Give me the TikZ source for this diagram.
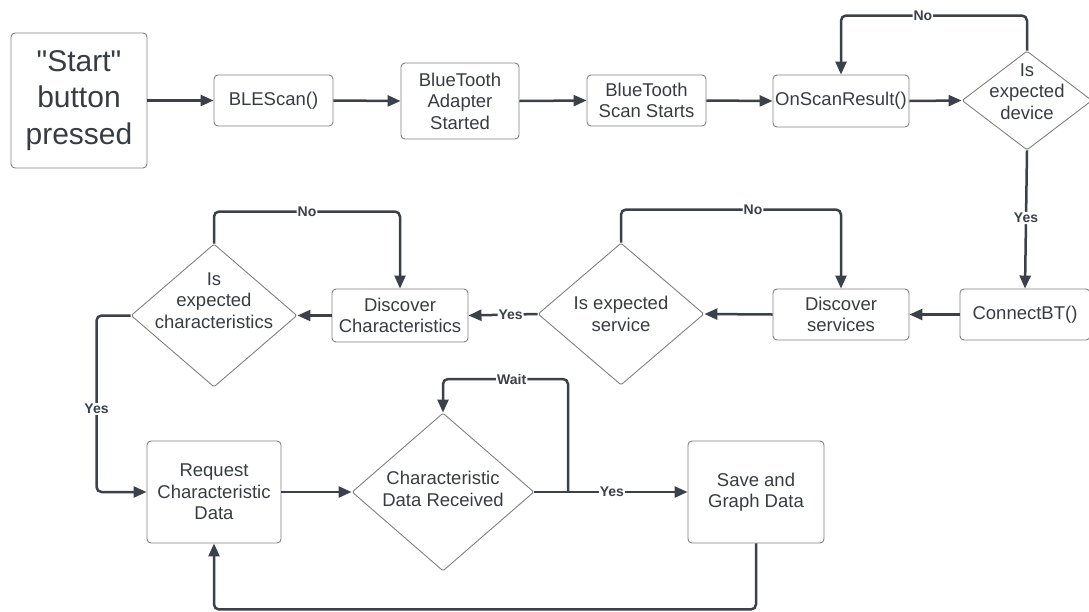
\documentclass[tikz,border=0pt]{standalone}
\usepackage{fontspec}
\setmainfont{Liberation Sans}
\usetikzlibrary{arrows.meta,shapes.geometric}
\definecolor{linec}{RGB}{58,65,75}
\definecolor{edgec}{RGB}{128,128,128}
\definecolor{textc}{RGB}{55,60,68}
\tikzset{
  box/.style={draw=edgec, line width=0.9pt, rounded corners=4pt, align=center,
    text=textc, font=\fontsize{18.5}{21.5}\selectfont, inner sep=0pt},
  dia/.style={draw=edgec, line width=0.9pt, shape=diamond, inner sep=0pt,
    rounded corners=1.5pt},
  diatext/.style={text=textc, align=center, font=\fontsize{18.5}{21.5}\selectfont},
  conn/.style={draw=linec, line width=2.5pt, rounded corners=5pt,
    -{Triangle[length=13pt,width=11pt]}},
  lbl/.style={fill=white, inner sep=1pt, text=linec,
    font=\fontsize{14}{16}\selectfont\bfseries}
}
\begin{document}
\begin{tikzpicture}[x=1pt,y=-1pt]
\useasboundingbox (0,0) rectangle (1089,611);

% top row
\node[box, minimum width=136pt, minimum height=135pt,
  font=\fontsize{30}{36.5}\selectfont] (start) at (79,100.5)
  {\textquotedbl Start\textquotedbl\\button\\pressed};
\node[box, minimum width=119pt, minimum height=51pt] (ble) at (273.5,100.5) {BLEScan()};
\node[box, minimum width=118pt, minimum height=76pt] (bta) at (460,101) {BlueTooth\\Adapter\\Started};
\node[box, minimum width=119pt, minimum height=51pt] (bss) at (646.5,100.5) {BlueTooth\\Scan Starts};
\node[box, minimum width=136pt, minimum height=52pt] (osr) at (841,101) {OnScanResult()};
\node[dia, minimum width=130pt, minimum height=99pt,
  label={[diatext, yshift=9pt]center:Is\\expected\\device}] (dev) at (1027,100.5) {};

% middle row
\node[box, minimum width=130pt, minimum height=51pt] (cbt) at (1025,314.5) {ConnectBT()};
\node[box, minimum width=136pt, minimum height=51pt] (dsv) at (841,314.5) {Discover\\services};
\node[dia, minimum width=166pt, minimum height=142pt,
  label={[diatext]center:Is expected\\service}] (svc) at (621,314) {};
\node[box, minimum width=136pt, minimum height=53pt] (dch) at (400,315.5) {Discover\\Characteristics};
\node[dia, minimum width=166pt, minimum height=143pt,
  label={[diatext, yshift=15pt]center:Is\\expected\\characteristics}] (chr) at (214,315.5) {};

% bottom row
\node[box, minimum width=134pt, minimum height=102pt] (req) at (214,492) {Request\\Characteristic\\Data};
\node[dia, minimum width=182pt, minimum height=158pt,
  label={[diatext, yshift=3pt]center:Characteristic\\Data Received}] (cdr) at (443,492) {};
\node[box, minimum width=136pt, minimum height=102pt] (sav) at (756,492) {Save and\\Graph Data};
\coordinate (wsplit) at (568,492);

% connectors
\draw[conn] (start.east) -- (ble.west);
\draw[conn] (ble.east) -- (bta.west);
\draw[conn] (bta.east) -- (bss.west);
\draw[conn] (bss.east) -- (osr.west);
\draw[conn] (osr.east) -- (dev.west);
\draw[conn] (dev.north) -- ++(0,-35) -| node[lbl, pos=0.28] {No} (osr.north);
\draw[conn] (dev.south) -- node[lbl, pos=0.49] {Yes} (cbt.north);
\draw[conn] (cbt.west) -- (dsv.east);
\draw[conn] (dsv.west) -- (svc.east);
\draw[conn] (svc.north) -- ++(0,-33) -| node[lbl, pos=0.30] {No} (dsv.north);
\draw[conn] (svc.west) -- node[lbl, pos=0.39] {Yes} (dch.east);
\draw[conn] (dch.west) -- (chr.east);
\draw[conn] (chr.north) -- ++(0,-32) -| node[lbl, pos=0.25] {No} (dch.north);
\draw[conn] (chr.west) -- ++(-34,0) |- node[lbl, pos=0.265] {Yes} (req.west);
\draw[conn] (req.east) -- (cdr.west);
\draw[conn] (cdr.east) -- node[lbl, pos=0.506] {Yes} (sav.west);
\draw[conn] (wsplit) -- ++(0,-113) -| node[lbl, pos=0.225] {Wait} (cdr.north);
\draw[conn] (sav.south) -- ++(0,66) -| (req.south);
\end{tikzpicture}
\end{document}
